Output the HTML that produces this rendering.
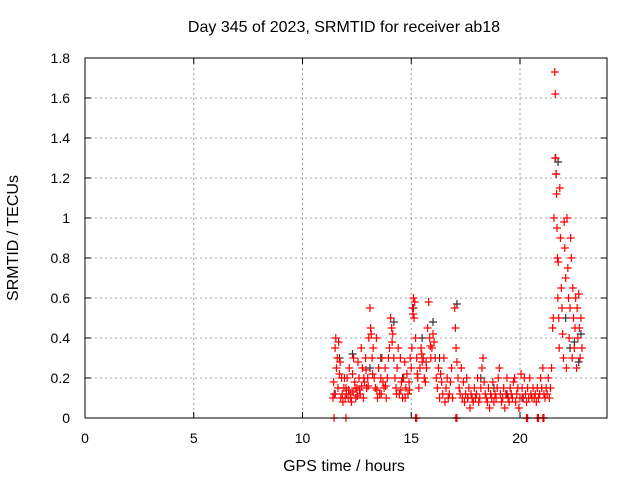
<!DOCTYPE html>
<html><head><meta charset="utf-8"><style>
body{margin:0;background:#fff;font-family:"Liberation Sans",sans-serif}
svg text{font-family:"Liberation Sans",sans-serif;font-size:14px;fill:#000}
svg text.big{font-size:16px}
</style></head><body>
<svg id="chart" width="640" height="480" viewBox="0 0 640 480">
<rect width="640" height="480" fill="#fff"/>
<text class="big" x="344" y="32" text-anchor="middle">Day 345 of 2023, SRMTID for receiver ab18</text>
<text class="big" x="344" y="471" text-anchor="middle">GPS time / hours</text>
<text class="big" transform="translate(18,238) rotate(-90)" text-anchor="middle">SRMTID / TECUs</text>
<g id="grid"></g><g id="black"></g><g id="red"></g><g id="axes"></g>
</svg>
<script>
const xTicks=[0,5,10,15,20];
const yTicks=[0,0.2,0.4,0.6,0.8,1,1.2,1.4,1.6,1.8];
const yTickLabels=["0","0.2","0.4","0.6","0.8","1","1.2","1.4","1.6","1.8"];
// [hour, SRMTID] pairs
const redPoints=[
[11.4,0.1],[11.43,0.18],[11.46,0.12],[11.5,0.35],[11.53,0.4],[11.56,0.25],[11.6,0.3],[11.63,0.15],[11.66,0.38],[11.7,0.22],[11.73,0.28],[11.76,0.1],[11.8,0.2],[11.83,0.12],[11.86,0.08],[11.9,0.15],[11.93,0.2],[11.96,0.1],
[12.0,0.15],[12.05,0.2],[12.1,0.1],[12.15,0.25],[12.2,0.12],[12.25,0.08],[12.3,0.22],[12.35,0.3],[12.4,0.18],[12.45,0.1],[12.5,0.15],[12.55,0.28],[12.6,0.2],[12.65,0.12],[12.7,0.35],[12.75,0.25],[12.8,0.1],[12.85,0.18],[12.9,0.3],[12.95,0.15],
[12.02,0.12],[12.12,0.14],[12.22,0.1],[12.32,0.13],[12.42,0.15],[12.52,0.11],[12.62,0.14],[12.72,0.16],[12.82,0.2],[12.92,0.24],
[13.0,0.2],[13.05,0.4],[13.1,0.55],[13.13,0.45],[13.16,0.42],[13.2,0.3],[13.25,0.35],[13.3,0.2],[13.35,0.15],[13.4,0.4],[13.45,0.1],[13.5,0.25],[13.55,0.12],[13.6,0.2],[13.65,0.3],[13.7,0.18],[13.75,0.15],[13.8,0.25],[13.85,0.1],[13.9,0.2],[13.95,0.3],
[13.02,0.16],[13.22,0.22],[13.42,0.14],[13.62,0.12],[13.82,0.16],
[14.0,0.35],[14.05,0.5],[14.1,0.45],[14.15,0.42],[14.2,0.3],[14.25,0.2],[14.3,0.15],[14.35,0.25],[14.4,0.35],[14.45,0.12],[14.5,0.3],[14.55,0.18],[14.6,0.1],[14.65,0.2],[14.7,0.28],[14.75,0.15],[14.8,0.22],[14.85,0.12],[14.9,0.18],[14.95,0.3],
[14.12,0.38],[14.32,0.12],[14.52,0.14],[14.72,0.1],[14.92,0.14],
[15.0,0.25],[15.03,0.35],[15.06,0.55],[15.1,0.6],[15.13,0.5],[15.16,0.58],[15.2,0.4],[15.25,0.3],[15.3,0.2],[15.35,0.15],[15.4,0.25],[15.45,0.35],[15.5,0.28],[15.55,0.3],[15.6,0.2],[15.65,0.18],[15.7,0.25],[15.75,0.45],[15.8,0.58],[15.85,0.4],[15.9,0.3],[15.95,0.35],
[15.08,0.52],[15.28,0.22],[15.48,0.32],[15.68,0.28],[15.88,0.36],
[16.0,0.42],[16.05,0.38],[16.1,0.3],[16.15,0.2],[16.2,0.15],[16.25,0.25],[16.3,0.1],[16.35,0.22],[16.4,0.18],[16.45,0.12],[16.5,0.3],[16.55,0.08],[16.6,0.15],[16.65,0.2],[16.7,0.1],[16.75,0.12],[16.8,0.18],[16.85,0.25],[16.9,0.1],
[17.0,0.55],[17.03,0.45],[17.06,0.35],[17.1,0.28],[17.15,0.2],[17.2,0.15],[17.25,0.12],[17.3,0.25],[17.35,0.1],[17.4,0.18],[17.45,0.08],[17.5,0.12],[17.55,0.2],[17.6,0.1],[17.65,0.15],[17.7,0.05],[17.75,0.12],[17.8,0.1],[17.85,0.08],[17.9,0.15],[17.95,0.1],
[18.0,0.12],[18.05,0.2],[18.1,0.08],[18.15,0.1],[18.2,0.15],[18.25,0.25],[18.3,0.3],[18.35,0.18],[18.4,0.12],[18.45,0.1],[18.5,0.08],[18.55,0.15],[18.6,0.05],[18.65,0.12],[18.7,0.1],[18.75,0.18],[18.8,0.08],[18.85,0.12],[18.9,0.1],[18.95,0.15],
[19.0,0.2],[19.05,0.25],[19.1,0.12],[19.15,0.08],[19.2,0.1],[19.25,0.15],[19.3,0.05],[19.35,0.12],[19.4,0.2],[19.45,0.1],[19.5,0.08],[19.55,0.15],[19.6,0.12],[19.65,0.1],[19.7,0.18],[19.75,0.2],[19.8,0.08],[19.85,0.12],[19.9,0.15],[19.95,0.05],
[20.0,0.1],[20.05,0.22],[20.1,0.15],[20.15,0.1],[20.2,0.2],[20.25,0.12],[20.3,0.08],[20.35,0.15],[20.4,0.1],[20.45,0.2],[20.5,0.12],[20.55,0.1],[20.6,0.15],[20.65,0.1],[20.7,0.12],[20.75,0.08],[20.8,0.15],[20.85,0.1],[20.9,0.12],[20.95,0.2],
[21.0,0.15],[21.05,0.25],[21.1,0.12],[21.15,0.1],[21.2,0.15],[21.25,0.12],[21.3,0.2],[21.35,0.1],[21.4,0.15],[21.45,0.25],[21.5,0.45],[21.53,0.5],
[21.56,1.0],[21.6,1.73],[21.62,1.62],[21.64,1.3],[21.66,1.22],[21.68,1.12],[21.7,0.95],[21.72,0.8],[21.74,0.6],[21.76,0.78],[21.78,0.5],[21.8,0.35],[21.83,1.15],[21.86,0.9],[21.9,0.65],[21.93,0.55],[21.96,0.42],[22.0,0.3],[22.03,0.98],[22.06,0.85],[22.1,0.7],[22.13,0.25],[22.16,1.0],[22.2,0.75],[22.23,0.6],[22.26,0.4],[22.3,0.55],[22.33,0.9],[22.36,0.8],[22.4,0.3],[22.43,0.65],[22.46,0.5],[22.5,0.35],[22.53,0.45],[22.56,0.6],[22.6,0.25],[22.63,0.55],[22.66,0.4],[22.7,0.62],[22.73,0.45],[22.76,0.3],[22.8,0.5],[22.85,0.35],
[11.45,0],[12.0,0],[15.2,0],[15.25,0],[17.05,0],[17.1,0],[20.3,0],[20.35,0],[20.8,0],[20.85,0],[21.05,0],[21.1,0]];
const blackPoints=[[11.5,0.12],[11.7,0.3],[12.3,0.32],[13.1,0.25],[13.6,0.3],[14.2,0.48],[14.6,0.2],[15.1,0.55],[15.5,0.4],[16.0,0.48],[16.3,0.3],[17.1,0.57],[17.6,0.1],[18.2,0.2],[18.8,0.15],[19.4,0.12],[20.1,0.1],[21.62,1.3],[21.66,1.22],[21.75,1.28],[22.1,0.5],[22.3,0.35],[22.5,0.38],[22.7,0.28],[22.8,0.42]];
const L=85,R=607,T=58,B=418,XMAX=24,YMAX=1.8;
const xs=h=>L+(R-L)*h/XMAX, ys=v=>B-(B-T)*v/YMAX;
const NS="http://www.w3.org/2000/svg";
function mk(tag,attrs,parent){const e=document.createElementNS(NS,tag);for(const k in attrs)e.setAttribute(k,attrs[k]);parent.appendChild(e);return e;}
const grid=document.getElementById('grid'),axes=document.getElementById('axes');
xTicks.forEach(t=>{const x=xs(t);
 if(t>0){const g=mk('line',{x1:x,x2:x,y1:T,y2:B,stroke:'#a0a0a0','stroke-dasharray':'2,3'},grid);
 
 }
 mk('line',{x1:x,x2:x,y1:B,y2:B-6,stroke:'#000'},axes);mk('line',{x1:x,x2:x,y1:T,y2:T+6,stroke:'#000'},axes);
 const tx=mk('text',{x:x,y:B+25,'text-anchor':'middle'},axes);tx.textContent=t;
 
 });
yTicks.forEach((t,i)=>{const y=ys(t);
 if(t>0&&t<1.8){const g=mk('line',{x1:L,x2:R,y1:y,y2:y,stroke:'#a0a0a0','stroke-dasharray':'2,3'},grid);
 
 }
 mk('line',{x1:L,x2:L+6,y1:y,y2:y,stroke:'#000'},axes);mk('line',{x1:R,x2:R-6,y1:y,y2:y,stroke:'#000'},axes);
 const tx=mk('text',{x:L-15,y:y+5,'text-anchor':'end'},axes);tx.textContent=yTickLabels[i];
 
 });
const fr=mk('rect',{x:L,y:T,width:R-L,height:B-T,fill:'none',stroke:'#000'},axes);


function plus(g,h,v,c,name){const x=xs(h),y=ys(v);
 const p=mk('path',{d:`M${x-4},${y}H${x+4}M${x},${y-4}V${y+4}`,stroke:c,'stroke-width':1.2,fill:'none'},g);
 
 }
const bg=document.getElementById('black'),rg=document.getElementById('red');
blackPoints.forEach(p=>plus(bg,p[0],p[1],'#333','black-point'));
redPoints.forEach(p=>plus(rg,p[0],p[1],'#f00','red-point'));
</script>
</body></html>
